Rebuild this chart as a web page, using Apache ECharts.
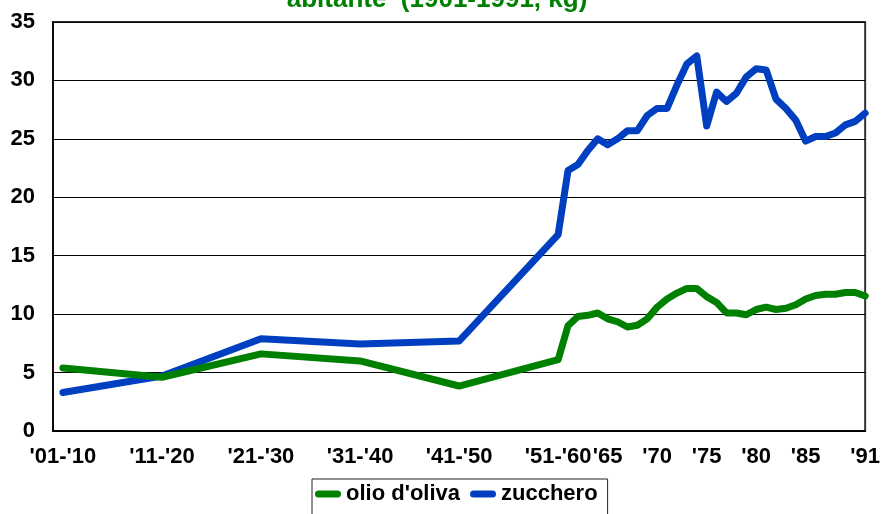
<!DOCTYPE html>
<html>
<head>
<meta charset="utf-8">
<script src="https://cdn.jsdelivr.net/npm/echarts@6/dist/echarts.min.js"></script>
<style>html,body{margin:0;padding:0;background:#fff}#c{width:883px;height:514px}</style>
</head>
<body>
<div id="c"></div>
<script>
const years = [1910,1920,1930,1940,1950,1960,1961,1962,1963,1964,1965,1966,1967,1968,1969,1970,1971,1972,1973,1974,1975,1976,1977,1978,1979,1980,1981,1982,1983,1984,1985,1986,1987,1988,1989,1990,1991];
const olio = [5.4,4.6,6.6,6.0,3.85,6.1,9.0,9.8,9.9,10.1,9.6,9.35,8.9,9.05,9.6,10.6,11.3,11.8,12.2,12.2,11.5,11.0,10.1,10.1,9.95,10.4,10.6,10.4,10.5,10.8,11.3,11.6,11.7,11.7,11.85,11.85,11.55];
const zucchero = [3.3,4.7,7.9,7.45,7.7,16.8,22.3,22.8,24.0,25.0,24.5,25.0,25.7,25.7,27.0,27.6,27.6,29.6,31.4,32.1,26.1,29.0,28.2,28.9,30.3,31.0,30.9,28.4,27.6,26.6,24.8,25.2,25.2,25.5,26.2,26.5,27.2];
const tickValues = [1910,1920,1930,1940,1950,1960,1965,1970,1975,1980,1985,1991];
const tickLabels = ["'01-'10","'11-'20","'21-'30","'31-'40","'41-'50","'51-'60","'65","'70","'75","'80","'85","'91"];
const seriesNames = ["olio d'oliva", "zucchero"];
const titleText = "abitante  (1901-1991, kg)";

const font = 'Liberation Sans, Arial, sans-serif';
const chart = echarts.init(document.getElementById('c'), null, {renderer: 'canvas'});
const pair = arr => years.map((y, i) => [y, arr[i]]);
const legendIcon = 'path://M3.5,0 L22.5,0 A3.5,3.5 0 0 1 22.5,7 L3.5,7 A3.5,3.5 0 0 1 3.5,0 Z';

chart.setOption({
  animation: false,
  backgroundColor: '#fff',
  graphic: [{
    type: 'text', x: 437, y: -13, z: 100,
    style: {text: titleText, font: 'bold 26px ' + font, fill: '#008000', align: 'center', verticalAlign: 'top'}
  }],
  grid: {left: 53, right: 17, top: 22, bottom: 83, show: true, borderColor: '#333', borderWidth: 2, backgroundColor: '#fff'},
  legend: {
    left: 312, top: 479,
    padding: [4, 10, 20, 3],
    borderColor: '#222', borderWidth: 1,
    itemWidth: 26, itemHeight: 7, itemGap: 10,
    icon: legendIcon,
    textStyle: {fontFamily: font, fontWeight: 'bold', fontSize: 22, color: '#000'},
    data: seriesNames
  },
  xAxis: {
    type: 'value', min: 1909, max: 1991,
    axisLine: {show: true, onZero: false, lineStyle: {color: '#000', width: 1.5}},
    axisTick: {show: false},
    splitLine: {show: false},
    axisLabel: {
      customValues: tickValues,
      margin: 15,
      fontFamily: font, fontWeight: 'bold', fontSize: 22, color: '#000',
      formatter: v => { const i = tickValues.indexOf(v); return i >= 0 ? tickLabels[i] : ''; }
    }
  },
  yAxis: {
    type: 'value', min: 0, max: 35, interval: 5,
    axisLine: {show: true, lineStyle: {color: '#000', width: 1.5}},
    axisTick: {show: false},
    splitLine: {show: true, lineStyle: {color: '#000', width: 1}},
    axisLabel: {margin: 18, fontFamily: font, fontWeight: 'bold', fontSize: 22, color: '#000'}
  },
  series: [
    {name: seriesNames[0], type: 'line', data: pair(olio), showSymbol: false, z: 3,
     color: '#008000', lineStyle: {width: 7, color: '#008000', cap: 'round', join: 'round'}},
    {name: seriesNames[1], type: 'line', data: pair(zucchero), showSymbol: false, z: 2,
     color: '#0040C0', lineStyle: {width: 7, color: '#0040C0', cap: 'round', join: 'round'}}
  ]
});
</script>
</body>
</html>
